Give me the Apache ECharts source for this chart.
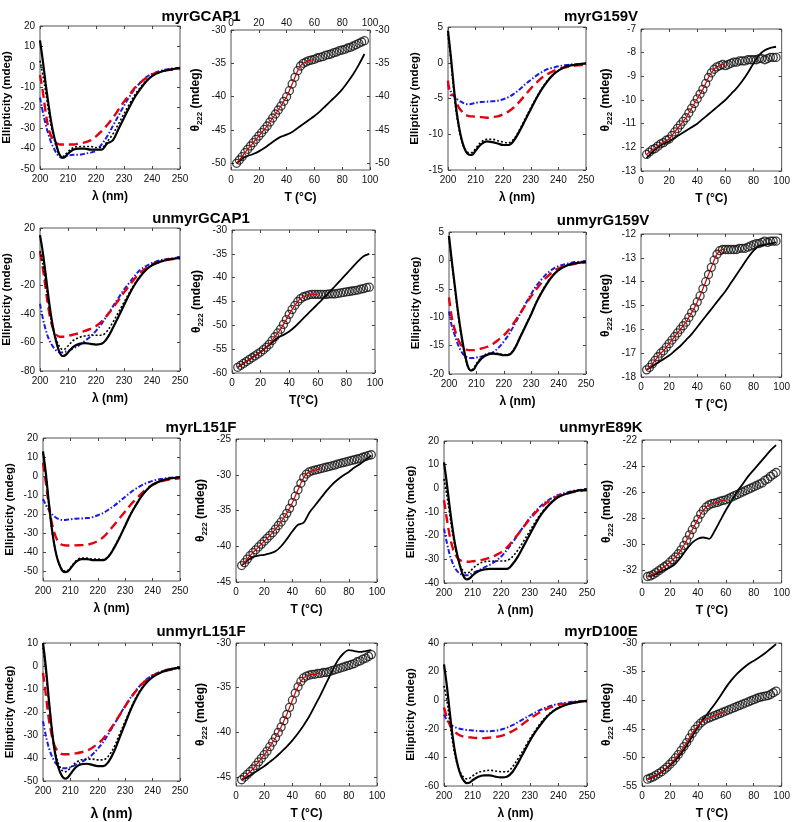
<!DOCTYPE html>
<html><head><meta charset="utf-8">
<script src="https://cdn.jsdelivr.net/npm/echarts@6/dist/echarts.min.js"></script>
<style>html,body{margin:0;padding:0;background:#fff}#c{width:793px;height:822px}</style>
</head><body><div id="c"></div>
<script>
// ---------- shared x values ----------
const W  = [200,201,202,203,204,205,206,207,208,209,210,212,214,216,218,220,222,224,226,228,230,232,234,236,238,240,243,246,250];
const T2 = [4,6,8,10,12,14,16,18,20,22,24,26,28,30,32,34,36,38,40,42,44,46,48,50,52,54,56,58,60,62,64,66,68,70,72,74,76,78,80,82,84,86,88,90,92,94,96];
const T4 = [4,8,12,16,20,24,28,32,36,40,44,48,52,56,60,64,68,72,76,80,84,88,92,96];

// ---------- titles ----------
const titles = ['myrGCAP1','myrG159V','unmyrGCAP1','unmyrG159V','myrL151F','unmyrE89K','unmyrL151F','myrD100E'];

// ---------- myrGCAP1 ----------
const myrGCAP1_solid = [13,3,-8,-18,-27,-34,-39,-43,-44.5,-44,-42.5,-40.5,-40,-40,-40.5,-40.5,-40.5,-37.5,-36,-30.5,-25,-19.5,-14.5,-10.5,-7,-4.5,-2.5,-1.5,-0.5];
const myrGCAP1_dot   = [3,-4,-12,-21,-29,-35,-40,-43,-44,-43,-41.5,-39.5,-39,-39,-39,-39.5,-39.5,-36.5,-33,-28,-23,-18,-13.5,-9.8,-6.8,-4.5,-2.5,-1.5,-0.5];
const myrGCAP1_red   = [-4,-12,-22,-30,-34,-36.5,-37.5,-38,-38,-38,-38,-38,-37.5,-37,-36,-34,-31.5,-28.5,-25,-21,-17,-13.5,-10,-7.5,-5.3,-3.7,-2.3,-1.5,-1];
const myrGCAP1_blue  = [-15,-22,-28,-33,-37,-40,-42.5,-44,-44.5,-44,-43.5,-43,-43,-42.5,-42,-41,-38,-34,-29,-24,-19,-14.5,-10.5,-7.5,-5,-3.5,-2,-1,-0.5];
const myrGCAP1_circ  = [-50.0,-49.5,-49.0,-48.4,-47.9,-47.4,-46.9,-46.4,-45.9,-45.4,-44.9,-44.4,-43.8,-43.2,-42.6,-42.0,-41.4,-40.7,-40.0,-39.1,-38.1,-37.1,-36.1,-35.4,-35.0,-34.8,-34.6,-34.5,-34.4,-34.2,-34.1,-34.0,-33.8,-33.7,-33.6,-33.4,-33.3,-33.1,-33.0,-32.9,-32.7,-32.6,-32.4,-32.2,-32.0,-31.8,-31.6];
const myrGCAP1_rev   = [-50.0,-49.3,-48.9,-48.6,-48.2,-47.7,-47.1,-46.5,-46.0,-45.7,-45.3,-44.7,-44.1,-43.5,-42.9,-42.2,-41.4,-40.6,-39.8,-38.9,-37.8,-36.6,-35.2,-33.6];

// ---------- myrG159V ----------
const myrG159V_solid = [4.5,1,-3,-6.5,-9,-10.8,-12,-12.7,-12.9,-12.8,-12.3,-11.4,-11.0,-11.1,-11.3,-11.5,-11.5,-10.8,-9.5,-8,-6.5,-5,-3.7,-2.6,-1.7,-1.1,-0.5,-0.3,-0.1];
const myrG159V_dot   = [4,0.5,-3.5,-7,-9.3,-11,-12,-12.5,-12.6,-12.5,-12,-11.1,-10.7,-10.7,-10.9,-11.1,-11.2,-10.6,-9.3,-7.8,-6.3,-4.9,-3.6,-2.5,-1.7,-1.1,-0.5,-0.3,-0.1];
const myrG159V_red   = [-2.5,-4.5,-4.5,-5.5,-6.3,-6.8,-7.2,-7.4,-7.5,-7.5,-7.6,-7.6,-7.7,-7.6,-7.5,-7.2,-6.8,-6.2,-5.4,-4.5,-3.6,-2.8,-2.1,-1.6,-1.2,-0.9,-0.6,-0.4,-0.3];
const myrG159V_blue  = [-3,-4,-4.6,-5,-5.3,-5.5,-5.7,-5.8,-5.8,-5.7,-5.6,-5.5,-5.45,-5.4,-5.3,-5.1,-4.8,-4.3,-3.7,-3.0,-2.4,-1.8,-1.3,-0.9,-0.7,-0.5,-0.3,-0.2,-0.1];
const myrG159V_circ  = [-12.3,-12.2,-12.1,-12.05,-11.95,-11.85,-11.8,-11.7,-11.65,-11.5,-11.35,-11.2,-11.05,-10.9,-10.75,-10.55,-10.35,-10.15,-9.95,-9.75,-9.55,-9.3,-9.05,-8.85,-8.7,-8.6,-8.55,-8.5,-8.55,-8.5,-8.45,-8.4,-8.4,-8.35,-8.35,-8.35,-8.3,-8.3,-8.3,-8.3,-8.25,-8.25,-8.3,-8.25,-8.2,-8.2,-8.2];
const myrG159V_rev   = [-12.45,-12.2,-12.0,-11.85,-11.75,-11.6,-11.45,-11.3,-11.15,-11.0,-10.8,-10.6,-10.4,-10.2,-10.0,-9.75,-9.5,-9.2,-8.85,-8.45,-8.1,-7.9,-7.8,-7.75];

// ---------- unmyrGCAP1 ----------
const unmyrGCAP1_solid = [15,3,-12,-28,-42,-53,-61,-67,-69.5,-69,-67,-63,-61,-60.5,-61,-61.5,-61,-57,-50,-42,-34,-26,-19,-13.5,-9,-6,-3.5,-2,-1];
const unmyrGCAP1_dot   = [4,-5,-18,-32,-44,-53,-59,-63,-65,-64.5,-62.5,-58.5,-56.5,-55.5,-55,-55,-55,-52,-46,-39,-32,-25,-18.5,-13,-9,-6,-3.5,-2,-1];
const unmyrGCAP1_red   = [3,-8,-22,-36,-46,-52,-55,-56,-56,-56,-55.5,-54.5,-53.5,-52,-50.5,-48.5,-45.5,-41,-36,-30.5,-25,-20,-15,-11,-8,-5.5,-3.5,-2,-1.5];
const unmyrGCAP1_blue  = [-33,-43,-51,-57,-61,-64,-66,-67,-67,-66.5,-66,-64,-62,-59,-56,-52,-47,-41,-35,-29,-23,-18,-13,-9,-6.5,-4.5,-2.5,-1.5,-0.5];
const unmyrGCAP1_circ  = [-58.8,-58.4,-58.0,-57.6,-57.2,-56.8,-56.4,-56.0,-55.6,-55.1,-54.6,-54.0,-53.2,-52.4,-51.6,-50.8,-49.8,-48.8,-47.7,-46.7,-45.8,-45.0,-44.4,-44.0,-43.8,-43.6,-43.5,-43.5,-43.5,-43.5,-43.5,-43.5,-43.4,-43.4,-43.4,-43.3,-43.2,-43.1,-43.0,-42.9,-42.8,-42.7,-42.6,-42.4,-42.3,-42.1,-42.0];
const unmyrGCAP1_rev   = [-58.8,-58.0,-57.2,-56.4,-55.6,-54.6,-53.6,-52.6,-52.0,-51.3,-50.3,-49.1,-47.9,-46.7,-45.5,-44.3,-43.1,-41.8,-40.5,-39.2,-37.9,-36.6,-35.5,-35.0];

// ---------- unmyrG159V ----------
const unmyrG159V_solid = [4.3,0,-4,-8,-11.5,-14.5,-17,-18.8,-19.4,-19.2,-18.4,-17.2,-16.6,-16.4,-16.5,-16.7,-16.6,-15.5,-13.5,-11.5,-9.5,-7.3,-5.5,-3.9,-2.6,-1.7,-0.9,-0.5,-0.3];
const unmyrG159V_dot   = [4,-0.3,-4.3,-8.3,-11.8,-14.8,-17.2,-18.9,-19.3,-19.0,-18.2,-17.0,-16.4,-16.3,-16.4,-16.6,-16.5,-15.4,-13.4,-11.4,-9.4,-7.2,-5.4,-3.8,-2.6,-1.7,-0.9,-0.5,-0.3];
const unmyrG159V_red   = [-6.5,-10,-12,-13.5,-14.6,-15.2,-15.6,-15.8,-15.8,-15.8,-15.7,-15.5,-15.2,-14.7,-14.0,-13.2,-12.1,-10.8,-9.3,-7.8,-6.3,-5.0,-3.8,-2.8,-2.0,-1.4,-0.9,-0.6,-0.3];
const unmyrG159V_blue  = [-9,-11.5,-13,-14.5,-15.6,-16.4,-16.9,-17.1,-17.2,-17.2,-17.1,-16.9,-16.6,-16.2,-15.4,-14.3,-12.9,-11.2,-9.4,-7.6,-5.9,-4.4,-3.2,-2.2,-1.5,-1.0,-0.6,-0.3,-0.2];
const unmyrG159V_circ  = [-17.7,-17.6,-17.45,-17.3,-17.15,-17.0,-16.9,-16.75,-16.6,-16.45,-16.3,-16.15,-16.0,-15.85,-15.7,-15.5,-15.3,-15.1,-14.85,-14.6,-14.3,-14.0,-13.7,-13.4,-13.1,-12.85,-12.7,-12.65,-12.65,-12.65,-12.65,-12.65,-12.65,-12.6,-12.6,-12.6,-12.55,-12.5,-12.45,-12.4,-12.4,-12.35,-12.3,-12.35,-12.3,-12.3,-12.3];
const unmyrG159V_rev   = [-17.7,-17.55,-17.4,-17.25,-17.1,-16.9,-16.7,-16.45,-16.2,-15.9,-15.6,-15.3,-15.0,-14.7,-14.4,-14.05,-13.7,-13.35,-13.0,-12.7,-12.5,-12.45,-12.4,-12.35];

// ---------- myrL151F ----------
const myrL151F_solid = [13,2,-12,-25,-35,-42,-46.5,-49.5,-50.3,-50,-48.5,-45,-43.5,-43.5,-44,-44,-44,-42,-37.5,-32,-26,-20,-15,-10.5,-7,-4.5,-2.5,-1.3,-0.6];
const myrL151F_dot   = [12,1,-13,-25.5,-35,-42,-46.3,-49,-49.8,-49.5,-48,-44.5,-43,-43,-43.5,-43.5,-43.8,-41.8,-37.3,-31.8,-25.8,-19.8,-14.8,-10.4,-7,-4.5,-2.5,-1.3,-0.6];
const myrL151F_red   = [7,-3,-14,-23,-29,-33,-35,-36,-36.3,-36.4,-36.4,-36.3,-36.2,-36,-35.3,-34,-32,-29,-25.5,-22,-18.5,-15,-12,-9,-6.5,-4.5,-2.8,-1.8,-1.2];
const myrL151F_blue  = [-12,-15,-17.5,-19.5,-21,-22,-22.6,-23,-23,-22.8,-22.6,-22.3,-22.2,-22,-21.5,-20.5,-19.3,-17.5,-15.5,-13.2,-10.8,-8.5,-6.5,-4.8,-3.5,-2.5,-1.5,-0.9,-0.5];
const myrL151F_circ  = [-42.7,-42.3,-41.8,-41.3,-40.9,-40.5,-40.1,-39.7,-39.3,-38.9,-38.5,-38.1,-37.6,-37.1,-36.6,-36.0,-35.4,-34.7,-33.9,-33.0,-32.1,-31.2,-30.4,-29.9,-29.6,-29.45,-29.35,-29.25,-29.15,-29.05,-28.95,-28.85,-28.75,-28.65,-28.5,-28.4,-28.3,-28.2,-28.1,-28.0,-27.9,-27.8,-27.7,-27.55,-27.45,-27.3,-27.2];
const myrL151F_rev   = [-42.7,-42.0,-41.5,-41.3,-41.2,-41.0,-40.7,-40.0,-39.0,-37.9,-37.0,-36.7,-35.3,-34.3,-33.3,-32.3,-31.4,-30.7,-30.1,-29.6,-29.0,-28.5,-27.9,-27.3];

// ---------- unmyrE89K ----------
const unmyrE89K_solid = [11,2,-8,-17,-24.5,-30,-34.5,-37.5,-38.5,-38,-36.8,-35,-34.3,-34,-34,-34,-34,-32,-28.5,-24,-19.5,-15,-11,-8,-5.5,-3.7,-2.2,-1.2,-0.5];
const unmyrE89K_dot   = [4,-3,-11,-19,-25.5,-30.5,-33.5,-35.3,-35.8,-35.3,-34,-32,-31,-30.8,-30.7,-30.7,-30.5,-28.8,-25.8,-22,-18,-14,-10.5,-7.7,-5.3,-3.6,-2.2,-1.2,-0.5];
const unmyrE89K_red   = [-5,-13,-20,-25,-28,-29.8,-30.6,-31,-31,-31,-30.8,-30.5,-30,-29.3,-28.3,-27,-25,-22.3,-19.2,-16,-13,-10.3,-8,-6,-4.5,-3.3,-2.2,-1.4,-0.8];
const unmyrE89K_blue  = [-17,-23,-28,-31.5,-34,-35.5,-36.3,-36.7,-36.7,-36.4,-35.8,-34.7,-33.5,-32.3,-30.8,-28.8,-26,-22.8,-19.3,-15.8,-12.5,-9.7,-7.3,-5.4,-3.9,-2.8,-1.7,-0.9,-0.4];
const unmyrE89K_circ  = [-32.5,-32.45,-32.35,-32.2,-32.05,-31.9,-31.75,-31.6,-31.4,-31.2,-31.0,-30.75,-30.45,-30.1,-29.7,-29.3,-28.9,-28.5,-28.1,-27.7,-27.4,-27.15,-27.0,-26.9,-26.85,-26.8,-26.7,-26.65,-26.6,-26.5,-26.4,-26.3,-26.2,-26.1,-26.0,-25.9,-25.8,-25.7,-25.6,-25.5,-25.4,-25.3,-25.1,-25.0,-24.8,-24.65,-24.5];
const unmyrE89K_rev   = [-32.5,-32.4,-32.2,-32.0,-31.8,-31.5,-31.0,-30.4,-29.9,-29.6,-29.5,-29.6,-29.0,-28.2,-27.4,-26.7,-26.0,-25.4,-24.8,-24.3,-23.8,-23.3,-22.8,-22.4];

// ---------- unmyrL151F ----------
const unmyrL151F_solid = [10,0,-13,-25,-35,-41.5,-45.5,-48,-49,-48.5,-47,-44,-42.7,-42.5,-43,-43.5,-43.5,-41.5,-37,-31,-25,-19,-14,-10,-7,-4.8,-2.8,-1.6,-0.7];
const unmyrL151F_dot   = [8,-2,-14,-25,-34,-40,-43.5,-45.5,-46,-45.5,-44.3,-42,-40.8,-40.5,-40.5,-40.8,-40.8,-39,-35,-29.5,-24,-18.5,-13.5,-9.7,-6.8,-4.7,-2.8,-1.6,-0.7];
const unmyrL151F_red   = [-3,-12,-22,-29,-34,-36.5,-37.8,-38.3,-38.4,-38.4,-38.3,-38,-37.5,-36.8,-35.5,-33.8,-31.5,-28.5,-25,-21.3,-17.5,-14,-10.8,-8,-5.8,-4.2,-2.8,-1.8,-1];
const unmyrL151F_blue  = [-24,-30,-35,-38.5,-41,-42.8,-43.8,-44.3,-44.5,-44.3,-44,-43,-41.8,-40.3,-38.5,-36,-33,-29.3,-25.3,-21.3,-17.3,-13.7,-10.5,-7.8,-5.6,-4,-2.4,-1.4,-0.7];
const unmyrL151F_circ  = [-45.3,-45.0,-44.7,-44.4,-44.1,-43.7,-43.3,-42.9,-42.5,-42.1,-41.6,-41.1,-40.6,-40.0,-39.4,-38.7,-38.0,-37.2,-36.4,-35.6,-34.9,-34.3,-33.9,-33.7,-33.6,-33.5,-33.5,-33.4,-33.4,-33.3,-33.3,-33.2,-33.1,-33.0,-32.9,-32.8,-32.7,-32.6,-32.5,-32.4,-32.3,-32.1,-32.0,-31.8,-31.7,-31.5,-31.3];
const unmyrL151F_rev   = [-45.3,-45.0,-44.6,-44.2,-43.8,-43.3,-42.8,-42.2,-41.6,-40.9,-40.1,-39.2,-38.2,-37.0,-35.8,-34.5,-33.2,-32.0,-31.2,-30.8,-30.9,-31.0,-30.9,-30.8];

// ---------- myrD100E ----------
const myrD100E_solid = [25,10,-8,-25,-38,-47,-53,-56.5,-58,-57.5,-56,-53.5,-52.5,-52.5,-53.5,-54,-53.5,-50,-43.5,-36,-28.5,-22,-16.5,-11.5,-8,-5.5,-3,-1.5,-0.5];
const myrD100E_dot   = [10,0,-15,-29,-40,-47,-51.5,-54,-55,-54.5,-53,-50.5,-49.5,-49,-49.5,-50,-50,-46.5,-40.5,-34,-27,-21,-15.5,-11,-7.6,-5.2,-3,-1.5,-0.5];
const myrD100E_red   = [-5,-12,-17,-20.5,-22.5,-24,-25,-25.5,-26,-26,-26.2,-26.5,-26.5,-26.2,-25.7,-25,-23.5,-21.5,-19,-16,-13,-10.3,-8,-6,-4.5,-3.3,-2.2,-1.4,-1];
const myrD100E_blue  = [-10,-14,-16.5,-18,-19,-19.7,-20.2,-20.5,-20.8,-21,-21.2,-21.5,-21.7,-21.7,-21.3,-20.5,-19.2,-17.5,-15.3,-13,-10.7,-8.5,-6.5,-4.9,-3.6,-2.6,-1.6,-0.9,-0.4];
const myrD100E_circ  = [-53.8,-53.6,-53.4,-53.1,-52.8,-52.5,-52.1,-51.7,-51.2,-50.7,-50.1,-49.5,-48.8,-48.1,-47.4,-46.6,-45.8,-45.1,-44.5,-44.0,-43.6,-43.3,-43.1,-42.9,-42.7,-42.5,-42.3,-42.1,-41.9,-41.7,-41.5,-41.3,-41.1,-40.9,-40.7,-40.5,-40.3,-40.1,-39.9,-39.7,-39.5,-39.4,-39.3,-39.2,-39.0,-38.7,-38.4];
const myrD100E_rev   = [-53.8,-53.4,-52.9,-52.2,-51.4,-50.5,-49.3,-47.9,-46.3,-44.7,-43.3,-42.0,-40.7,-39.3,-37.8,-36.5,-35.4,-34.5,-33.7,-33.1,-32.5,-31.8,-31.0,-30.2];

// ---------- layout (positions / axis ranges) ----------
const FONT = 'Liberation Sans, Arial, sans-serif';
const titlePos = [[196,4],[596,4],[196,206],[598,208],[196,415],[596,415],[196,619],[596,619]];
const cdPanels = [
  {box:[36,26,144,143],  y:[-50,20,10], d:[myrGCAP1_solid,myrGCAP1_dot,myrGCAP1_red,myrGCAP1_blue]},
  {box:[448,27,138,143], y:[-15,5,5],   d:[myrG159V_solid,myrG159V_dot,myrG159V_red,myrG159V_blue]},
  {box:[36,228,144,143], y:[-80,20,20], d:[unmyrGCAP1_solid,unmyrGCAP1_dot,unmyrGCAP1_red,unmyrGCAP1_blue]},
  {box:[449,232,137,142],y:[-20,5,5],   d:[unmyrG159V_solid,unmyrG159V_dot,unmyrG159V_red,unmyrG159V_blue]},
  {box:[43,438,137,143], y:[-55,20,5], ticks:[-50,-40,-30,-20,-10,0,10,20], d:[myrL151F_solid,myrL151F_dot,myrL151F_red,myrL151F_blue]},
  {box:[444,441,143,142],y:[-40,20,10], d:[unmyrE89K_solid,unmyrE89K_dot,unmyrE89K_red,unmyrE89K_blue]},
  {box:[43,643,137,143], y:[-50,10,10], d:[unmyrL151F_solid,unmyrL151F_dot,unmyrL151F_red,unmyrL151F_blue], bigX:true},
  {box:[444,643,143,143],y:[-60,40,20], d:[myrD100E_solid,myrD100E_dot,myrD100E_red,myrD100E_blue]}
];
const thPanels = [
  {box:[231,30,139,140], y:[-51,-30,1], ticks:[-50,-45,-40,-35,-30], c:myrGCAP1_circ, r:myrGCAP1_rev, mirror:true},
  {box:[641,29,143,142], y:[-13,-7,1], c:myrG159V_circ, r:myrG159V_rev},
  {box:[232,230,143,143],y:[-60,-30,5], c:unmyrGCAP1_circ, r:unmyrGCAP1_rev, xname:'T(°C)'},
  {box:[641,234,145,143],y:[-18,-12,1], c:unmyrG159V_circ, r:unmyrG159V_rev},
  {box:[236,439,141,143],y:[-45,-25,5], c:myrL151F_circ, r:myrL151F_rev},
  {box:[642,440,141,143],y:[-33,-22,1], ticks:[-32,-30,-28,-26,-24,-22], c:unmyrE89K_circ, r:unmyrE89K_rev},
  {box:[236,643,141,143],y:[-46,-30,1], ticks:[-45,-40,-35,-30], c:unmyrL151F_circ, r:unmyrL151F_rev},
  {box:[642,643,141,143],y:[-55,-30,5], c:myrD100E_circ, r:myrD100E_rev}
];

const pairs = (xs, ys) => ys.map((v, i) => [xs[i], v]);
const option = {animation:false, backgroundColor:'#fff', title:[], grid:[], xAxis:[], yAxis:[], series:[]};

titles.forEach((t, i) => option.title.push({text:t, left:titlePos[i][0], top:titlePos[i][1], textAlign:'center',
  textStyle:{fontFamily:FONT, fontSize:15, fontWeight:'bold', color:'#000'}}));

const lbl = (show, m) => ({show, color:'#111', fontSize:10, fontFamily:FONT, margin:(m === undefined ? 5 : m)});
function addAxes(p, xr, xname, yname, yrich, mirror, bigX){
  const gi = option.grid.length;
  option.grid.push({left:p.box[0], top:p.box[1], width:p.box[2], height:p.box[3], show:true,
    borderColor:'#555', borderWidth:1, backgroundColor:'rgba(0,0,0,0)'});
  const xi = option.xAxis.length, yi = option.yAxis.length;
  const tick = {inside:true, length:3, lineStyle:{color:'#444', width:1}};
  const noLine = {show:false, onZero:false};
  const xb = {type:'value', gridIndex:gi, min:xr[0], max:xr[1], interval:xr[2], splitLine:{show:false},
    axisLine:noLine, axisTick:tick};
  option.xAxis.push(Object.assign({}, xb, {position:'bottom', axisLabel:lbl(true), name:xname, nameLocation:'middle',
    nameGap: bigX ? 26 : 22, nameTextStyle:{fontFamily:FONT, fontSize: bigX ? 14 : 12, fontWeight:'bold', color:'#000'}}));
  option.xAxis.push(Object.assign({}, xb, {position:'top', axisLabel:lbl(!!mirror, 2)}));
  const yb = {type:'value', gridIndex:gi, min:p.y[0], max:p.y[1], splitLine:{show:false}, axisLine:noLine};
  if (p.ticks) {
    yb.axisLabel = Object.assign(lbl(true), {customValues:p.ticks});
    yb.axisTick = Object.assign({}, tick, {customValues:p.ticks});
  } else {
    yb.interval = p.y[2];
    yb.axisLabel = lbl(true);
    yb.axisTick = tick;
  }
  option.yAxis.push(Object.assign({}, yb, {position:'left', name:yname, nameLocation:'middle', nameGap:27,
    nameTextStyle:Object.assign({fontFamily:FONT, fontSize:11.5, fontWeight:'bold', color:'#000'}, yrich ? {rich:yrich} : {})}));
  const yr = Object.assign({}, yb, {position:'right'});
  yr.axisLabel = Object.assign({}, yb.axisLabel, {show:!!mirror});
  option.yAxis.push(yr);
  return {xi, yi};
}

const cdStyles = [
  {color:'#000', width:2.2, type:'solid'},
  {color:'#000', width:1.6, type:[2,2]},
  {color:'#e3000f', width:2.4, type:[9,5]},
  {color:'#1a1ae6', width:2, type:[5,2,1.5,2]}
];
cdPanels.forEach(p => {
  const a = addAxes(p, [200,250,10], 'λ (nm)', 'Ellipticity (mdeg)', null, false, p.bigX);
  [3,2,1,0].forEach(k => option.series.push({type:'line', xAxisIndex:a.xi, yAxisIndex:a.yi, data:pairs(W, p.d[k]),
    showSymbol:false, smooth:0.35, lineStyle:cdStyles[k], z:2+(3-k)}));
});

const thRich = {t:{fontFamily:FONT, fontSize:12, fontWeight:'bold', color:'#000'},
                s:{fontFamily:FONT, fontSize:8, fontWeight:'bold', color:'#000', padding:[8,0,0,0]}};
thPanels.forEach(p => {
  const a = addAxes(p, [0,100,20], p.xname || 'T (°C)', '{t|θ}{s|222}{t| (mdeg)}', thRich, p.mirror, false);
  option.series.push({type:'line', xAxisIndex:a.xi, yAxisIndex:a.yi, data:pairs(T4, p.r), showSymbol:false,
    smooth:0.3, lineStyle:{color:'#000', width:1.8}, z:2});
  option.series.push({type:'scatter', xAxisIndex:a.xi, yAxisIndex:a.yi, data:pairs(T2, p.c), symbol:'circle',
    symbolSize:8, itemStyle:{color:'rgba(255,255,255,0)', borderColor:'#111', borderWidth:1.3}, z:3});
  option.series.push({type:'line', xAxisIndex:a.xi, yAxisIndex:a.yi, data:pairs(T2, p.c).filter(d => d[0] <= 60),
    showSymbol:false, smooth:0.3, lineStyle:{color:'#d40000', width:1.2}, z:4});
});

const chart = echarts.init(document.getElementById('c'), null, {renderer:'canvas'});
chart.setOption(option);
</script></body></html>
